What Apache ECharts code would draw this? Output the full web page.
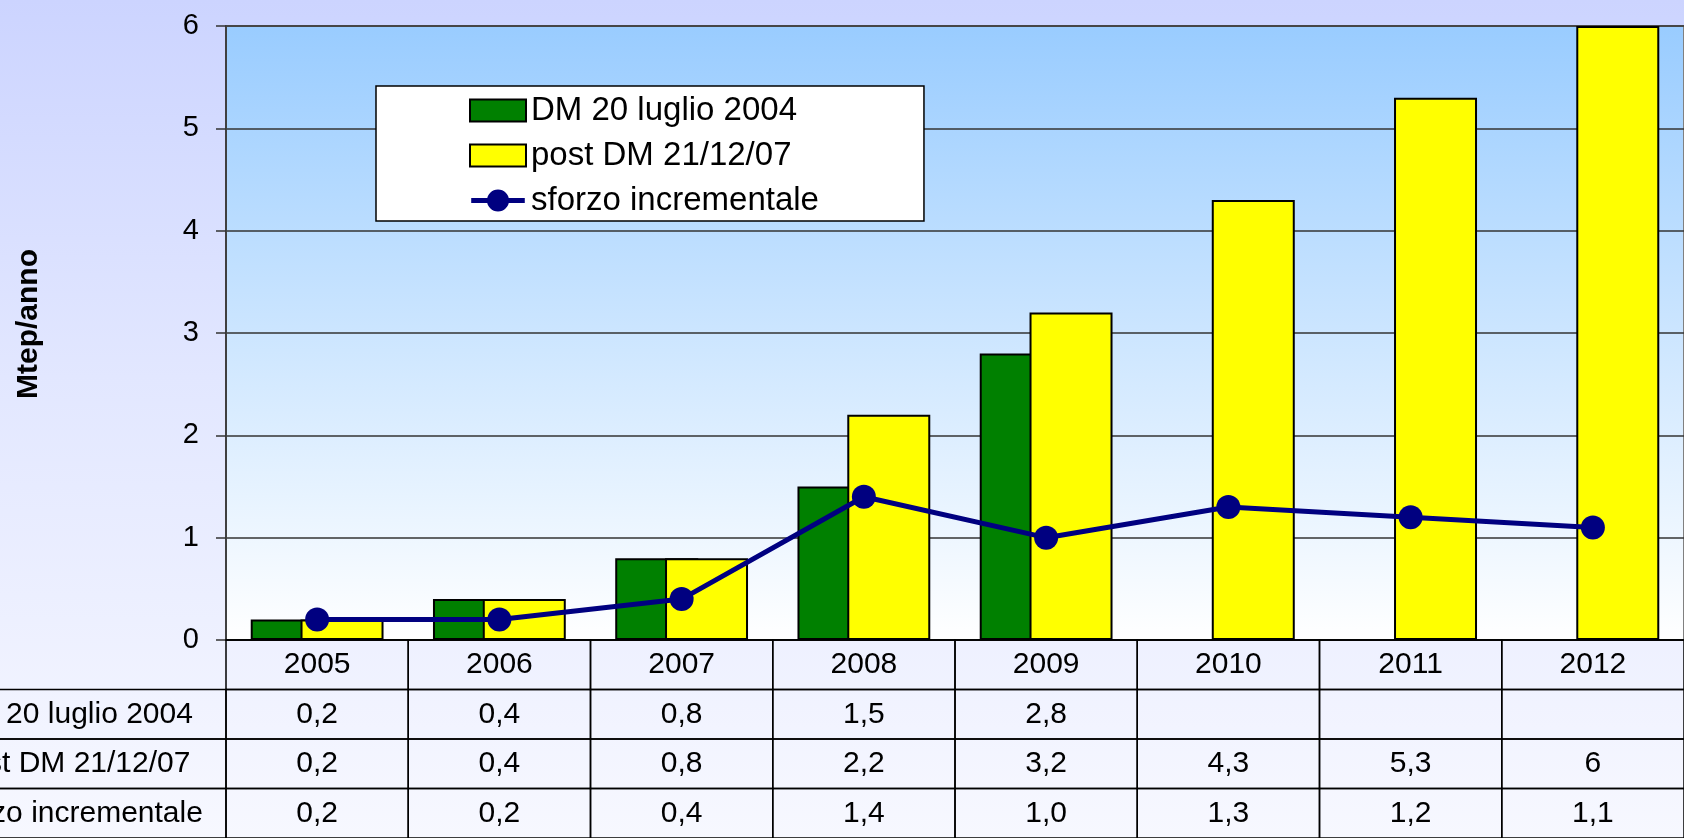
<!DOCTYPE html>
<html>
<head>
<meta charset="utf-8">
<script src="https://cdn.jsdelivr.net/npm/echarts@6/dist/echarts.min.js"></script>
<style>
  html, body { margin: 0; padding: 0; }
  #main {
    width: 1684px; height: 838px;
    background: linear-gradient(to bottom, #ccd4ff 0%, #e2e7ff 45%, #f7f8ff 100%);
  }
</style>
</head>
<body>
<div id="main"></div>
<script>
var years = ['2005', '2006', '2007', '2008', '2009', '2010', '2011', '2012'];
var dmLuglio = [0.2, 0.4, 0.8, 1.5, 2.8, null, null, null];
var postDm = [0.2, 0.4, 0.8, 2.2, 3.2, 4.3, 5.3, 6];
var sforzo = [0.2, 0.2, 0.4, 1.4, 1.0, 1.3, 1.2, 1.1];
var rowNames = ['DM 20 luglio 2004', 'post DM 21/12/07', 'sforzo incrementale'];
var yTicks = { min: 0, max: 6, step: 1 };

var font = '"Liberation Sans", Arial, sans-serif';
var tableFont = '30px ' + font;

// numeri con la virgola come nella tabella Excel
function fmt(v, dec) {
  if (v == null) return '';
  return (dec ? v.toFixed(dec) : String(v)).replace('.', ',');
}

// celle della tabella dati: [colonna, riga, testo]
var tableCells = [];
years.forEach(function (y, i) {
  tableCells.push([i, 0, y]);
  tableCells.push([i, 1, fmt(dmLuglio[i])]);
  tableCells.push([i, 2, fmt(postDm[i])]);
  tableCells.push([i, 3, fmt(sforzo[i], 1)]);
});

function renderCell(params, api) {
  var cell = tableCells[params.dataIndex];
  var c = cell[0], r = cell[1];
  var p = api.coord([c, r]);
  var s = api.size([1, 1]);
  var x0 = p[0] - s[0] / 2, y0 = p[1] - s[1] / 2;
  var children = [{
    type: 'rect',
    shape: { x: x0, y: y0, width: s[0], height: s[1] },
    style: { fill: 'none', stroke: '#000', lineWidth: 1.5 }
  }, {
    type: 'text', x: p[0], y: p[1],
    style: { text: cell[2], align: 'center', verticalAlign: 'middle', font: tableFont, fill: '#000' }
  }];
  // colonna delle etichette a sinistra
  if (c === 0 && r > 0) {
    children.push({
      type: 'rect',
      shape: { x: x0 - 400, y: y0, width: 400, height: s[1] },
      style: { fill: 'none', stroke: '#000', lineWidth: 1.5 }
    });
    children.push({
      type: 'text', x: x0 - 154, y: p[1],
      style: { text: rowNames[r - 1], align: 'center', verticalAlign: 'middle', font: tableFont, fill: '#000' }
    });
  }
  return { type: 'group', children: children };
}

// icona legenda: linea spessa con pallino
var lineIcon = 'path://M0,8.5L56,8.5L56,13.5L0,13.5Z M16.5,11A11.5,11.5 0 1,1 39.5,11A11.5,11.5 0 1,1 16.5,11Z';

var chart = echarts.init(document.getElementById('main'));
var option = {
  animation: false,
  backgroundColor: 'transparent',
  legend: {
    orient: 'vertical',
    left: 376,
    top: 86,
    padding: [7, 105, 3, 93],
    itemWidth: 56,
    itemHeight: 22,
    itemGap: 10,
    backgroundColor: '#fff',
    borderColor: '#000',
    borderWidth: 1.5,
    textStyle: { fontSize: 33, fontFamily: font, color: '#000', lineHeight: 35 },
    data: [
      { name: rowNames[0], icon: 'rect' },
      { name: rowNames[1], icon: 'rect' },
      { name: rowNames[2], icon: lineIcon }
    ]
  },
  grid: [{
    left: 226, right: -10, top: 26, bottom: 198,
    show: true,
    borderColor: '#808080',
    borderWidth: 2,
    backgroundColor: new echarts.graphic.LinearGradient(0, 0, 0, 1, [
      { offset: 0, color: '#99ccff' },
      { offset: 1, color: '#ffffff' }
    ])
  }, {
    left: 226, right: -10, top: 640, height: 203
  }],
  xAxis: [{
    type: 'category',
    gridIndex: 0,
    data: years,
    axisLabel: { show: false },
    axisTick: { show: false },
    axisLine: { lineStyle: { color: '#000', width: 1.5 } }
  }, {
    type: 'category',
    gridIndex: 1,
    data: years,
    show: false
  }],
  yAxis: [{
    type: 'value',
    gridIndex: 0,
    min: yTicks.min, max: yTicks.max, interval: yTicks.step,
    name: 'Mtep/anno',
    nameLocation: 'middle',
    nameRotate: 90,
    nameGap: 182,
    nameTextStyle: { fontSize: 30, fontWeight: 'bold', fontFamily: font, color: '#000', padding: [0, 0, 0, 18] },
    axisLine: { show: true, lineStyle: { color: '#404040', width: 2 } },
    axisTick: { show: true, length: 10, lineStyle: { color: '#333', width: 1.5 } },
    axisLabel: { fontSize: 29, fontFamily: font, color: '#000', margin: 27 },
    splitLine: { lineStyle: { color: '#333', width: 1.5 } }
  }, {
    type: 'category',
    gridIndex: 1,
    inverse: true,
    data: ['anni'].concat(rowNames),
    show: false
  }],
  series: [{
    name: rowNames[0],
    type: 'bar',
    data: dmLuglio,
    barWidth: 83,
    barGap: '-40%',
    itemStyle: { color: '#008000', borderColor: '#000', borderWidth: 2 }
  }, {
    name: rowNames[1],
    type: 'bar',
    data: postDm,
    barWidth: 83,
    itemStyle: { color: '#ffff00', borderColor: '#000', borderWidth: 2 }
  }, {
    name: rowNames[2],
    type: 'line',
    data: sforzo,
    symbol: 'circle',
    symbolSize: 24,
    lineStyle: { color: '#000080', width: 5 },
    itemStyle: { color: '#000080' },
    z: 5
  }, {
    type: 'custom',
    xAxisIndex: 1,
    yAxisIndex: 1,
    data: tableCells.map(function (c) { return [c[0], c[1]]; }),
    renderItem: renderCell,
    silent: true
  }]
};
chart.setOption(option);
</script>
</body>
</html>
